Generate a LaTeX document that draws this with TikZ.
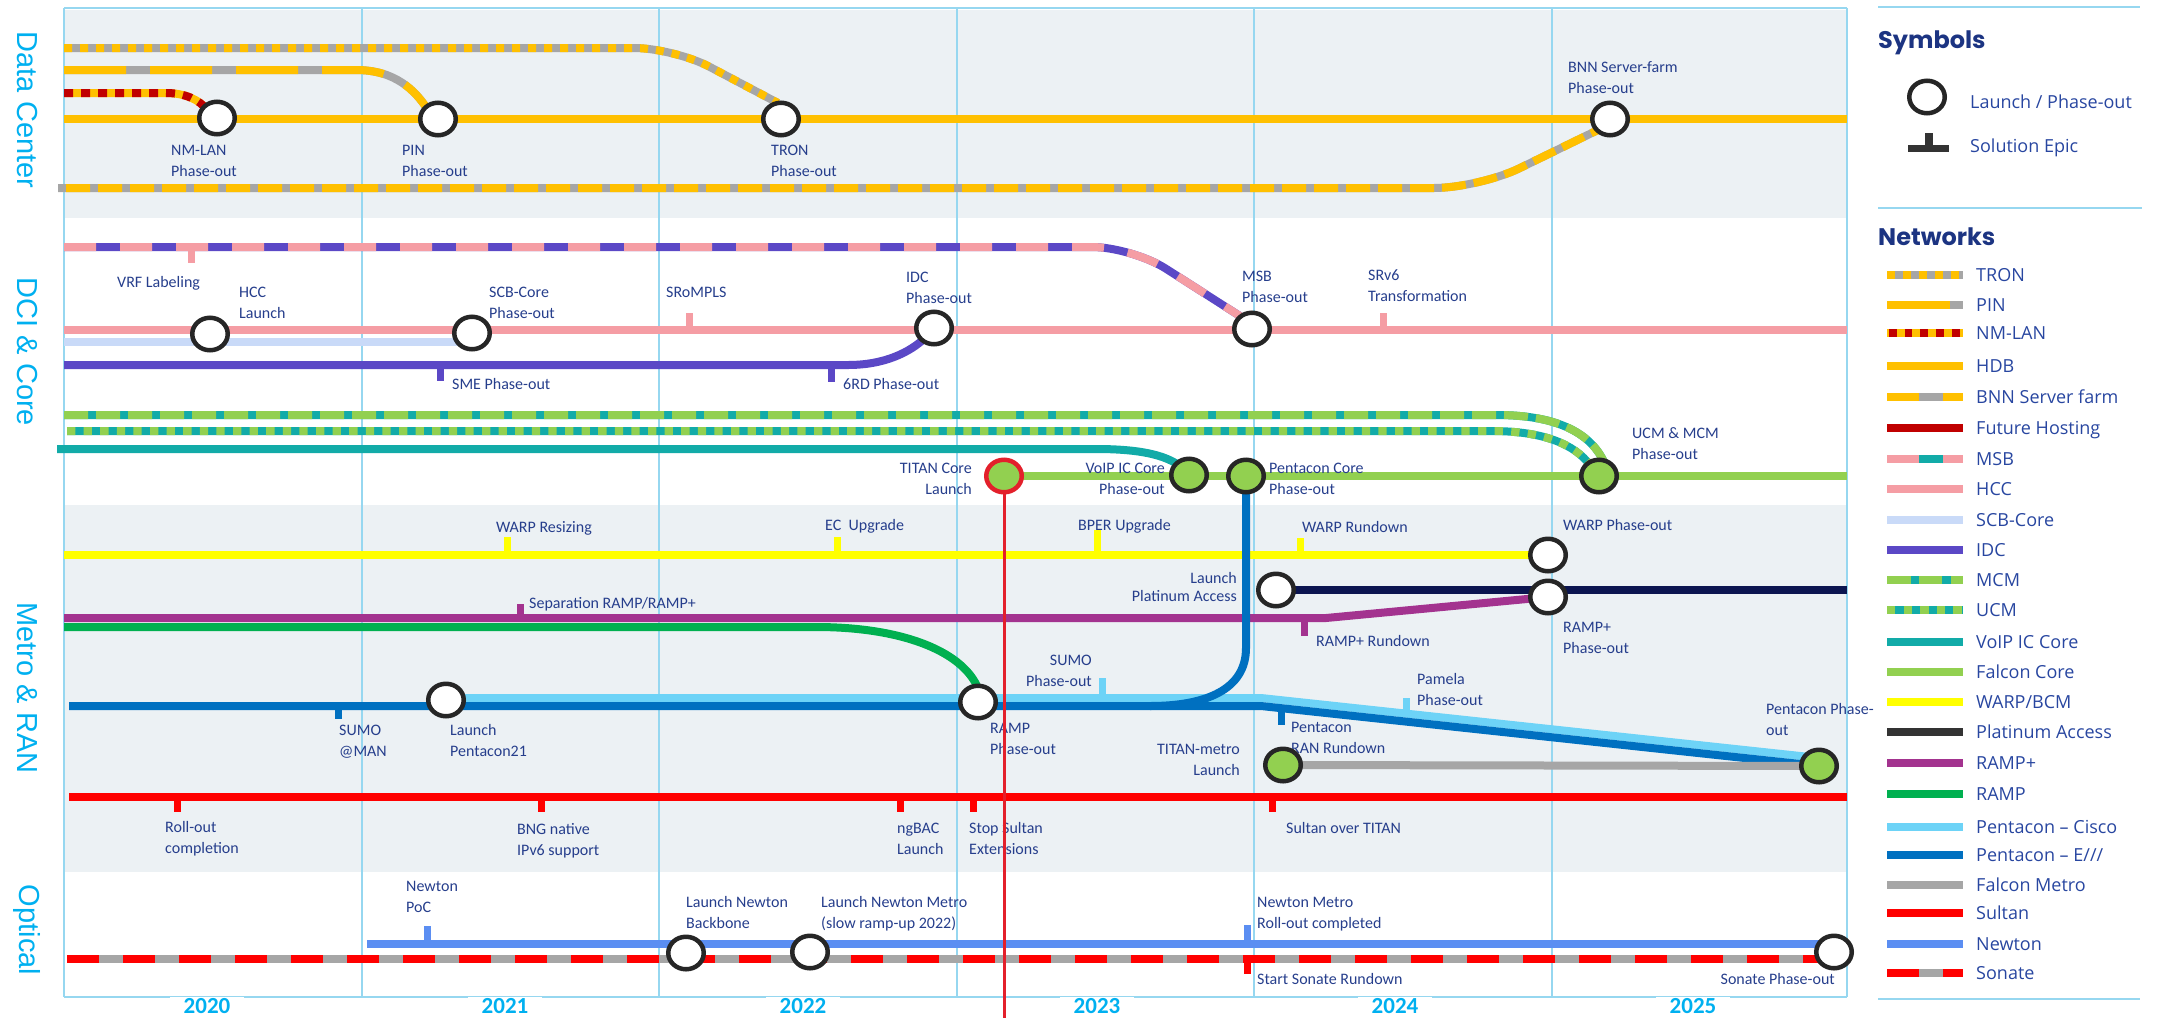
\documentclass[tikz,border=0pt]{standalone}
\usepackage{fontspec}
\usetikzlibrary{shapes.geometric}
\newfontfamily\carlito{Carlito}
\newfontfamily\secfont{Liberation Sans}
\newfontfamily\legfont{Open Sans}
\newfontfamily\headfont{Poppins}

\definecolor{dcyellow}{HTML}{FFC000}
\definecolor{fmgray}{HTML}{A6A6A6}
\definecolor{fhred}{HTML}{C00000}
\definecolor{hccpink}{HTML}{F59DA4}
\definecolor{idcpurple}{HTML}{5B48C6}
\definecolor{scbblue}{HTML}{C9DAF8}
\definecolor{fcgreen}{HTML}{92D050}
\definecolor{voipteal}{HTML}{12ABA8}
\definecolor{warpyellow}{HTML}{FFFF00}
\definecolor{platnavy}{HTML}{0B1550}
\definecolor{platgray}{HTML}{333333}
\definecolor{rampplus}{HTML}{A3338F}
\definecolor{rampgreen}{HTML}{00B050}
\definecolor{ciscoblue}{HTML}{6DD3F7}
\definecolor{ericblue}{HTML}{0070C0}
\definecolor{sultanred}{HTML}{FF0000}
\definecolor{newtonblue}{HTML}{5B8EF2}
\definecolor{ringc}{HTML}{262626}
\definecolor{todayred}{HTML}{E3202B}
\definecolor{lblc}{RGB}{38,62,140}
\definecolor{legc}{RGB}{40,70,160}
\definecolor{headc}{RGB}{28,52,130}
\definecolor{secc}{HTML}{00B0F0}
\definecolor{gridc}{RGB}{150,215,240}
\definecolor{bandc}{RGB}{236,241,244}

\newcommand\lstr{\rule{0pt}{13pt}}

\tikzset{
  rail/.style={line width=8pt},
  under/.style={preaction={draw=#1, solid, line width=8pt}},
  hdb/.style={rail, draw=dcyellow},
  tron/.style={rail, draw=dcyellow, dash pattern=on 8pt off 8pt, under=fmgray},
  pin/.style={rail, draw=dcyellow, dash pattern=on 62pt off 24pt, under=fmgray},
  nmlan/.style={rail, draw=fhred, dash pattern=on 9pt off 8pt, under=dcyellow},
  bnn/.style={rail, draw=dcyellow, dash pattern=on 24pt off 8pt, dash phase=24pt, under=fmgray},
  fhost/.style={rail, draw=fhred},
  msb/.style={rail, draw=hccpink, dash pattern=on 32pt off 24pt, under=idcpurple},
  hcc/.style={rail, draw=hccpink},
  scb/.style={rail, draw=scbblue},
  idc/.style={rail, draw=idcpurple},
  mcm/.style={rail, draw=fcgreen, dash pattern=on 24pt off 8pt, under=voipteal},
  ucm/.style={rail, draw=fcgreen, dash pattern=on 8.3pt off 8.3pt, under=voipteal},
  voip/.style={rail, draw=voipteal},
  fcore/.style={rail, draw=fcgreen},
  warp/.style={rail, draw=warpyellow},
  plat/.style={rail, draw=platnavy},
  rampp/.style={rail, draw=rampplus},
  ramp/.style={rail, draw=rampgreen},
  ciscol/.style={rail, draw=ciscoblue},
  eric/.style={rail, draw=ericblue},
  fmetro/.style={rail, draw=fmgray},
  sultan/.style={rail, draw=sultanred},
  newton/.style={rail, draw=newtonblue},
  sonate/.style={rail, draw=sultanred, dash pattern=on 32pt off 24pt, under=fmgray},
  epic/.style={line width=7pt},
  gridline/.style={draw=gridc, line width=1.5pt},
  stn/.style={ellipse, draw=ringc, line width=4.5pt, fill=white, minimum width=35.5pt, minimum height=32.5pt, inner sep=0pt},
  stng/.style={stn, fill=fcgreen},
  lbl/.style={font=\carlito\fontsize{16}{21}\selectfont, text=lblc, inner sep=0pt, align=left, anchor=north west, yshift=8pt},
  lblr/.style={lbl, align=right, anchor=north east},
  sec/.style={font=\secfont\fontsize{29}{29}\selectfont, text=secc, inner sep=0pt, rotate=-90},
  year/.style={font=\carlito\bfseries\fontsize{23}{23}\selectfont, text=secc, fill=white, inner xsep=14pt, inner ysep=1pt},
  head/.style={font=\headfont\bfseries\fontsize{24}{24}\selectfont, text=headc, inner sep=0pt, anchor=base west},
  legt/.style={font=\legfont\fontsize{18}{18}\selectfont, text=legc, inner sep=0pt, anchor=base west},
}

\begin{document}
\begin{tikzpicture}[x=1pt,y=-1pt]
\useasboundingbox (0,0) rectangle (2165,1018);

% ---------- background bands and year grid ----------
\fill[bandc] (64,10) rectangle (1847,218);
\fill[bandc] (64,505) rectangle (1847,872);
\foreach \gx in {64,362,659,957,1254,1552,1847}
  \draw[gridline] (\gx,8) -- (\gx,997);
\draw[gridline, line width=2pt] (64,8) -- (1847,8);
\draw[gridline, line width=2.5pt] (64,997) -- (1847,997);
\node[year] (y2020) at (207,1006) {2020};
\node[year] (y2021) at (505,1006) {2021};
\node[year] (y2022) at (803,1006) {2022};
\node[year] (y2023) at (1097,1006) {2023};
\node[year] (y2024) at (1395,1006) {2024};
\node[year] (y2025) at (1693,1006) {2025};

% ---------- section titles ----------
\node[sec] (sDC) at (27,110) {Data Center};
\node[sec] (sDCI) at (27,352) {DCI \& Core};
\node[sec] (sMR) at (27,688) {Metro \& RAN};
\node[sec] (sOP) at (27,930) {Optical};

% ---------- station positions ----------
\coordinate (pNM) at (217,118);
\coordinate (pPIN) at (438,119);
\coordinate (pTRON) at (781,119);
\coordinate (pBNN) at (1610,119);
\coordinate (pHCC) at (210,334);
\coordinate (pSCB) at (472,333);
\coordinate (pIDC) at (934,328);
\coordinate (pMSB) at (1252,329);
\coordinate (pTITAN) at (1004,476);
\coordinate (pVoIP) at (1189,475);
\coordinate (pPCore) at (1246,476);
\coordinate (pUCM) at (1599,476);
\coordinate (pWARP) at (1548,555);
\coordinate (pPlat) at (1276,590);
\coordinate (pRAMPp) at (1548,597);
\coordinate (pP21) at (446,700);
\coordinate (pRAMP) at (978,702);
\coordinate (pTITANm) at (1283,765);
\coordinate (pPPO) at (1819,766);
\coordinate (pNB) at (686,953);
\coordinate (pNMe) at (810,952);
\coordinate (pSon) at (1834,952);

% ---------- Data Center ----------
\draw[hdb] (64,119) -- (1847,119);
\draw[tron, rounded corners=40pt] (64,48) -- (674,48) -- (778,103);
\draw[pin] (64,70) -- (356,70) .. controls (395,70) and (415,90) .. (428,110);
\draw[nmlan] (64,93) -- (166,93) .. controls (185,93) and (200,100) .. (207,110);
\draw[bnn, rounded corners=45pt] (58,188) -- (1479,188) -- (1602,128);

% ---------- DCI & Core ----------
\draw[msb, rounded corners=40pt] (64,247) -- (1132,247) -- (1243,318);
\draw[hcc] (64,330) -- (1847,330);
\draw[scb] (64,342) -- (pSCB |- 0,342);
\draw[idc] (64,365) -- (848,365) .. controls (885,365) and (910,352) .. (925,338);
\draw[mcm] (64,415) -- (1497,415) .. controls (1555,415) and (1590,432) .. (1604,462);
\draw[ucm] (67,431) -- (1491,431) .. controls (1545,431) and (1575,445) .. (1590,465);
\draw[voip] (57,449) -- (1096,449) .. controls (1140,449) and (1165,455) .. (1180,466);
\draw[fcore] (pTITAN) -- (1847,476);
% epics
\draw[epic, hccpink] (191,247) -- (191,263);
\draw[epic, hccpink] (689,330) -- (689,313);
\draw[epic, hccpink] (1383,330) -- (1383,313);
\draw[epic, idcpurple] (440,365) -- (440,381);
\draw[epic, idcpurple] (831,365) -- (831,382);

% ---------- Metro & RAN ----------
\draw[warp] (64,555) -- (pWARP);
\draw[plat] (pPlat) -- (1847,590);
\draw[rampp] (64,618) -- (1326,618) -- (pRAMPp);
\draw[ramp] (64,627) -- (816,627) .. controls (900,627) and (960,650) .. (977,686);
\draw[ciscol] (pP21) ++(0,-2) -- (1261,698) -- (1819,758);
\draw[eric] (69,706) -- (1261,706) -- (pPPO);
\draw[eric] (pPCore) -- (1246,648) .. controls (1246,690) and (1205,706) .. (1150,706);
\draw[fmetro] (pTITANm) -- (pPPO);
\draw[sultan] (69,797) -- (1847,797);
% epics
\draw[epic, warpyellow] (507,555) -- (507,537);
\draw[epic, warpyellow] (837,555) -- (837,537);
\draw[epic, warpyellow] (1097,555) -- (1097,530);
\draw[epic, warpyellow] (1300,555) -- (1300,538);
\draw[epic, rampplus] (520,618) -- (520,604);
\draw[epic, rampplus] (1304,618) -- (1304,636);
\draw[epic, ericblue] (338,706) -- (338,719);
\draw[epic, ciscoblue] (1102,698) -- (1102,678);
\draw[epic, ciscoblue] (1406,712) -- (1406,698);
\draw[epic, ericblue] (1281,712) -- (1281,725);
\draw[epic, sultanred] (177,797) -- (177,812);
\draw[epic, sultanred] (541,797) -- (541,812);
\draw[epic, sultanred] (900,797) -- (900,812);
\draw[epic, sultanred] (973,797) -- (973,812);
\draw[epic, sultanred] (1272,797) -- (1272,812);

% ---------- Optical ----------
\draw[newton] (367,944) -- (1830,944);
\draw[sonate] (67,959) -- (1834,959);
\draw[epic, newtonblue] (427,944) -- (427,926);
\draw[epic, newtonblue] (1247,944) -- (1247,925);
\draw[epic, sultanred] (1247,959) -- (1247,974);

% ---------- labels ----------
\node[lbl] (tNM) at (171,150) {\lstr NM-LAN\\Phase-out};
\node[lbl] (tPIN) at (402,150) {\lstr PIN\\Phase-out};
\node[lbl] (tTRON) at (771,150) {\lstr TRON\\Phase-out};
\node[lbl] (tBNN) at (1568,67) {\lstr BNN Server-farm\\Phase-out};

\node[lbl] (tVRF) at (117,282) {\lstr VRF Labeling};
\node[lbl] (tHCC) at (239,292) {\lstr HCC\\Launch};
\node[lbl] (tSCB) at (489,292) {\lstr SCB-Core\\Phase-out};
\node[lbl] (tSRo) at (666,292) {\lstr SRoMPLS};
\node[lbl] (tIDC) at (906,277) {\lstr IDC\\Phase-out};
\node[lbl] (tMSB) at (1242,276) {\lstr MSB\\Phase-out};
\node[lbl] (tSRv6) at (1368,275) {\lstr SRv6\\Transformation};
\node[lbl] (tSME) at (452,384) {\lstr SME Phase-out};
\node[lbl] (t6RD) at (843,384) {\lstr 6RD Phase-out};
\node[lblr] (tTITAN) at (972,468) {\lstr TITAN Core\\Launch};
\node[lblr] (tVoIP) at (1165,468) {\lstr VoIP IC Core\\Phase-out};
\node[lbl] (tPCore) at (1269,468) {\lstr Pentacon Core\\Phase-out};
\node[lbl] (tUCM) at (1632,433) {\lstr UCM \& MCM\\Phase-out};

\node[lbl] (tWRes) at (496,527) {\lstr WARP Resizing};
\node[lbl] (tEC) at (825,525) {\lstr EC\ \ Upgrade};
\node[lbl] (tBPER) at (1078,525) {\lstr BPER Upgrade};
\node[lbl] (tWRun) at (1302,527) {\lstr WARP Rundown};
\node[lbl] (tWPO) at (1563,525) {\lstr WARP Phase-out};
\node[lblr] (tPlat) at (1237,578) {\lstr Launch\\[-3pt]Platinum Access};
\node[lbl] (tSep) at (529,603) {\lstr Separation RAMP/RAMP+};
\node[lbl] (tRPRun) at (1316,641) {\lstr RAMP+ Rundown};
\node[lbl] (tRPPO) at (1563,627) {\lstr RAMP+\\Phase-out};
\node[lblr] (tSUMOpo) at (1092,660) {\lstr SUMO\\Phase-out};
\node[lbl] (tSUMO) at (339,730) {\lstr SUMO\\@MAN};
\node[lbl] (tP21) at (450,730) {\lstr Launch\\Pentacon21};
\node[lbl] (tRAMP) at (990,728) {\lstr RAMP\\Phase-out};
\node[lbl] (tPam) at (1417,679) {\lstr Pamela\\Phase-out};
\node[lbl] (tPRR) at (1291,727) {\lstr Pentacon\\RAN Rundown};
\node[lblr] (tTm) at (1240,749) {\lstr TITAN-metro\\Launch};
\node[lbl] (tPPO) at (1766,709) {\lstr Pentacon Phase-\\out};
\node[lbl] (tRoll) at (165,827) {\lstr Roll-out\\completion};
\node[lbl] (tBNG) at (517,829) {\lstr BNG native\\IPv6 support};
\node[lbl] (tngB) at (897,828) {\lstr ngBAC\\Launch};
\node[lbl] (tStop) at (969,828) {\lstr Stop Sultan\\Extensions};
\node[lbl] (tSoT) at (1286,828) {\lstr Sultan over TITAN};

\node[lbl] (tPoC) at (406,886) {\lstr Newton\\PoC};
\node[lbl] (tNB) at (686,902) {\lstr Launch Newton\\Backbone};
\node[lbl] (tNMe) at (821,902) {\lstr Launch Newton Metro\\(slow ramp-up 2022)};
\node[lbl] (tNMR) at (1257,902) {\lstr Newton Metro\\Roll-out completed};
\node[lbl] (tSSR) at (1257,979) {\lstr Start Sonate Rundown};
\node[lblr] (tSPO) at (1835,979) {\lstr Sonate Phase-out};

% ---------- today marker ----------
\draw[todayred, line width=3pt] (pTITAN) -- (1004,1018);

% ---------- stations ----------
\node[stn] (cNM) at (pNM) {};
\node[stn] (cPIN) at (pPIN) {};
\node[stn] (cTRON) at (pTRON) {};
\node[stn] (cBNN) at (pBNN) {};
\node[stn] (cHCC) at (pHCC) {};
\node[stn] (cSCB) at (pSCB) {};
\node[stn] (cIDC) at (pIDC) {};
\node[stn] (cMSB) at (pMSB) {};
\node[stng, draw=todayred] (cTITAN) at (pTITAN) {};
\node[stng] (cVoIP) at (pVoIP) {};
\node[stng] (cPCore) at (pPCore) {};
\node[stng] (cUCM) at (pUCM) {};
\node[stn] (cWARP) at (pWARP) {};
\node[stn] (cPlat) at (pPlat) {};
\node[stn] (cRAMPp) at (pRAMPp) {};
\node[stn] (cP21) at (pP21) {};
\node[stn] (cRAMP) at (pRAMP) {};
\node[stng] (cTITANm) at (pTITANm) {};
\node[stng] (cPPO) at (pPPO) {};
\node[stn] (cNB) at (pNB) {};
\node[stn] (cNMe) at (pNMe) {};
\node[stn] (cSon) at (pSon) {};

% ---------- legend ----------
\draw[gridc, line width=2.5pt] (1878,7) -- (2140,7);
\draw[gridc, line width=2.5pt] (1878,208) -- (2142,208);
\draw[gridc, line width=2.5pt] (1878,999) -- (2140,999);
\node[head] (hSym) at (1878,48.5) {Symbols};
\node[stn] (legStn) at (1927,97) {};
\node[legt] (legStnT) at (1970,108.5) {Launch / Phase-out};
\draw[epic, platgray] (1908,148.5) -- (1949,148.5);
\draw[platgray, line width=8pt] (1929,133) -- (1929,146);
\node[legt] (legEpT) at (1970,152.5) {Solution Epic};
\node[head] (hNet) at (1878,245.5) {Networks};

% swatches
\draw[tron] (1887,275) -- (1963,275);
\draw[rail, fmgray] (1950,305) -- (1963,305);
\draw[rail, dcyellow] (1887,305) -- (1950,305);
\draw[rail, dcyellow] (1887,333) -- (1963,333);
\draw[rail, fhred, dash pattern=on 7.7pt off 8pt] (1889,333) -- (1963,333);
\draw[hdb] (1887,366) -- (1963,366);
\draw[rail, dcyellow] (1887,397) -- (1963,397);
\draw[rail, fmgray] (1919,397) -- (1943,397);
\draw[fhost] (1887,428) -- (1963,428);
\draw[hcc] (1887,459) -- (1963,459);
\draw[rail, voipteal] (1919,459) -- (1943,459);
\draw[hcc] (1887,489) -- (1963,489);
\draw[scb] (1887,520) -- (1963,520);
\draw[idc] (1887,550) -- (1963,550);
\draw[fcore] (1887,580) -- (1963,580);
\draw[rail, voipteal] (1911,580) -- (1919,580);
\draw[rail, voipteal] (1942,580) -- (1951,580);
\draw[ucm] (1887,610) -- (1963,610);
\draw[voip] (1887,642) -- (1963,642);
\draw[fcore] (1887,672) -- (1963,672);
\draw[warp] (1887,702) -- (1963,702);
\draw[rail, platgray] (1887,732) -- (1963,732);
\draw[rampp] (1887,763) -- (1963,763);
\draw[ramp] (1887,794) -- (1963,794);
\draw[ciscol] (1887,827) -- (1963,827);
\draw[eric] (1887,855) -- (1963,855);
\draw[fmetro] (1887,885) -- (1963,885);
\draw[sultan] (1887,913) -- (1963,913);
\draw[newton] (1887,944) -- (1963,944);
\draw[sultan] (1887,973) -- (1963,973);
\draw[rail, fmgray] (1919,973) -- (1943,973);

% names
\foreach \ly/\lt [count=\li] in {275/TRON, 305/PIN, 333/NM-LAN, 366/HDB, 397/BNN Server farm,
  428/Future Hosting, 459/MSB, 489/HCC, 520/SCB-Core, 550/IDC, 580/MCM, 610/UCM,
  642/VoIP IC Core, 672/Falcon Core, 702/WARP\slash BCM, 732/Platinum Access, 763/RAMP+,
  794/RAMP, 827/Pentacon \textendash{} Cisco, 855/Pentacon \textendash{} E\slash\slash\slash, 885/Falcon Metro,
  913/Sultan, 944/Newton, 973/Sonate}
  \node[legt] (leg\li) at (1976,\ly+6.5) {\lt};

\end{tikzpicture}
\end{document}
